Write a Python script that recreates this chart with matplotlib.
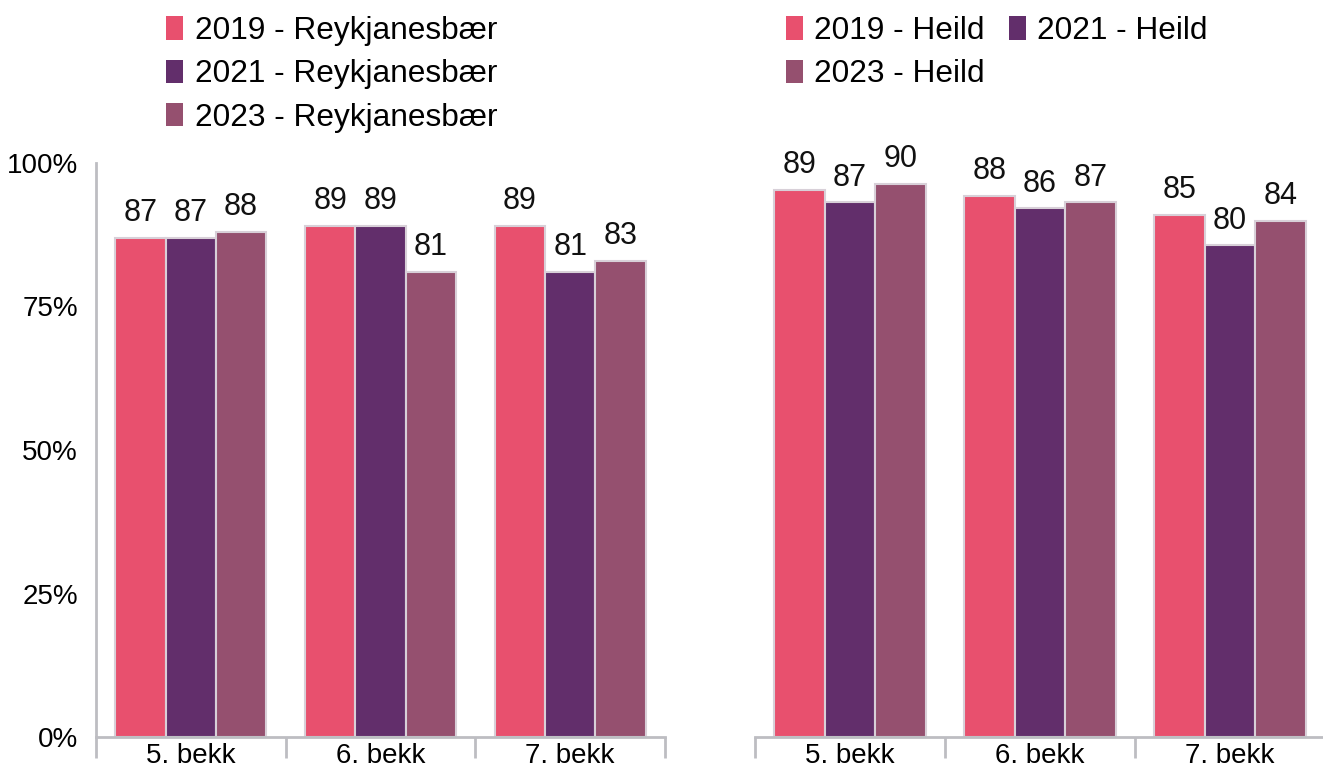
import matplotlib
matplotlib.use("Agg")
import matplotlib.pyplot as plt
import numpy as np
from matplotlib.patches import Patch

plt.rcParams['font.family'] = ['Liberation Sans', 'DejaVu Sans']

categories = ["5. bekk", "6. bekk", "7. bekk"]
years = ["2019", "2021", "2023"]
reykjanesbaer = {
    "2019": [87, 89, 89],
    "2021": [87, 89, 81],
    "2023": [88, 81, 83],
}
heild = {
    "2019": [89, 88, 85],
    "2021": [87, 86, 80],
    "2023": [90, 87, 84],
}
y_ticks = [0, 25, 50, 75, 100]
y_ticklabels = ["0%", "25%", "50%", "75%", "100%"]

colors = {"2019": "#E8506E", "2021": "#622E6B", "2023": "#95506F"}
edge = "#D8D0D8"
axis_gray = "#BDBDC2"
FS_TICK = 20
FS_LAB = 22
FS_LEG = 22.8

W, H = 1323, 767
fig = plt.figure(figsize=(W / 100, H / 100), dpi=100)

ax1 = fig.add_axes([96 / W, 30 / H, 569 / W, 574 / H])
ax2 = fig.add_axes([755 / W, 30 / H, 570 / W, 574 / H])

bw = 0.265
x = np.arange(len(categories)) + 0.5


def draw(ax, data, ymax, show_y):
    for i, yr in enumerate(years):
        vals = data[yr]
        bars = ax.bar(x + (i - 1) * bw, vals, bw, color=colors[yr],
                      edgecolor=edge, linewidth=1.5, zorder=2)
        for b, v in zip(bars, vals):
            ax.annotate(f"{v}", (b.get_x() + b.get_width() / 2, b.get_height()),
                        xytext=(0, 7), textcoords="offset points",
                        ha="center", va="bottom", fontsize=FS_LAB, color="#111111")
    ax.set_xlim(0, 3)
    ax.set_ylim(0, ymax)
    ax.set_xticks(x)
    ax.set_xticklabels(categories, fontsize=FS_TICK)
    ax.set_xticks([0, 1, 2, 3], minor=True)
    ax.tick_params(axis="x", which="major", length=0, pad=4)
    ax.tick_params(axis="x", which="minor", length=15, width=2, color=axis_gray)
    for s in ["top", "right"]:
        ax.spines[s].set_visible(False)
    ax.spines["bottom"].set_color(axis_gray)
    ax.spines["bottom"].set_linewidth(2)
    if show_y:
        ax.set_yticks(y_ticks)
        ax.set_yticklabels(y_ticklabels, fontsize=FS_TICK)
        ax.tick_params(axis="y", length=0, pad=13)
        ax.spines["left"].set_color(axis_gray)
        ax.spines["left"].set_linewidth(2)
    else:
        ax.set_yticks([])
        ax.spines["left"].set_visible(False)


draw(ax1, reykjanesbaer, 100, True)
draw(ax2, heild, 93.4, False)

leg_kw = dict(frameon=False, fontsize=FS_LEG, handlelength=0.55, handleheight=0.75,
              handletextpad=0.35, labelspacing=0.42, borderaxespad=0, borderpad=0)

h_left = [Patch(facecolor=colors[y], edgecolor="none", label=f"{y} - Reykjanesbær") for y in years]
fig.legend(handles=h_left, loc="upper left", bbox_to_anchor=(166 / W, 1.0 - 16 / H), **leg_kw)

h_right = [Patch(facecolor=colors[y], edgecolor="none", label=f"{y} - Heild") for y in years]
order = [h_right[0], h_right[2], h_right[1]]
fig.legend(handles=order, loc="upper left", bbox_to_anchor=(786 / W, 1.0 - 16 / H),
           ncol=2, columnspacing=0.75, **leg_kw)

fig.savefig("out.png", dpi=100)
